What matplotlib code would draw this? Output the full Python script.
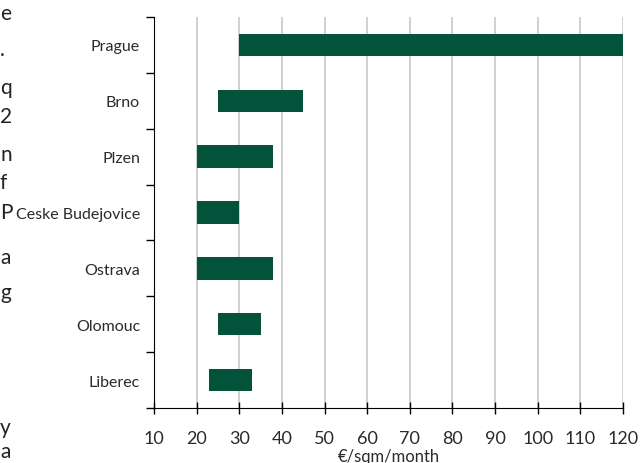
import matplotlib
matplotlib.use('Agg')
import matplotlib.pyplot as plt
import numpy as np

# rent ranges by city
cities = ['Prague', 'Brno', 'Plzen', 'Ceske Budejovice', 'Ostrava', 'Olomouc', 'Liberec']
low = [30, 25, 20, 20, 20, 25, 23]
high = [120, 45, 38, 30, 38, 35, 33]

# clipped text from the page beside the chart
side_chars = ['e', '.', 'q', '2', 'n', 'f', 'P', 'a', 'g', 'y', 'a']
side_y = [14, 50, 88, 117, 155, 183, 213, 258, 293, 428, 452]

plt.rcParams['font.family'] = ['Lato', 'DejaVu Sans']

fig = plt.figure(figsize=(6.4, 4.64), dpi=100)
ax = fig.add_axes([154/640, 1-409/464, (623-154)/640, (409-18)/464])

pos = np.arange(len(cities))
widths = [h - l for l, h in zip(low, high)]
ax.barh(pos, widths, left=low, height=0.4, color='#03523a', zorder=3)

ax.set_xlim(10, 120)
ax.set_ylim(len(cities) - 0.5, -0.5)
ax.set_xticks(np.arange(10, 121, 10))
ax.set_yticks(pos)
ax.set_yticklabels(cities, fontsize=11.5, color='#2a2a2a')
ax.set_yticks(np.arange(-0.5, len(cities), 1), minor=True)
ax.tick_params(axis='y', which='major', length=0, pad=10)
ax.tick_params(axis='y', which='minor', length=6, width=1, direction='out')
ax.tick_params(axis='x', direction='inout', length=8, width=1, labelsize=13,
               labelcolor='#2a2a2a', pad=12)
ax.grid(axis='x', color='#c8c8c8', linewidth=1.2, zorder=0)
ax.spines['top'].set_visible(False)
ax.spines['right'].set_visible(False)
ax.set_xlabel('€/sqm/month', fontsize=12, color='#2a2a2a', labelpad=1)

for ch, y in zip(side_chars, side_y):
    fig.text(0, 1 - y/464, ch, fontsize=15, va='center', ha='left', color='#222222')

fig.savefig('out.png', dpi=100)
